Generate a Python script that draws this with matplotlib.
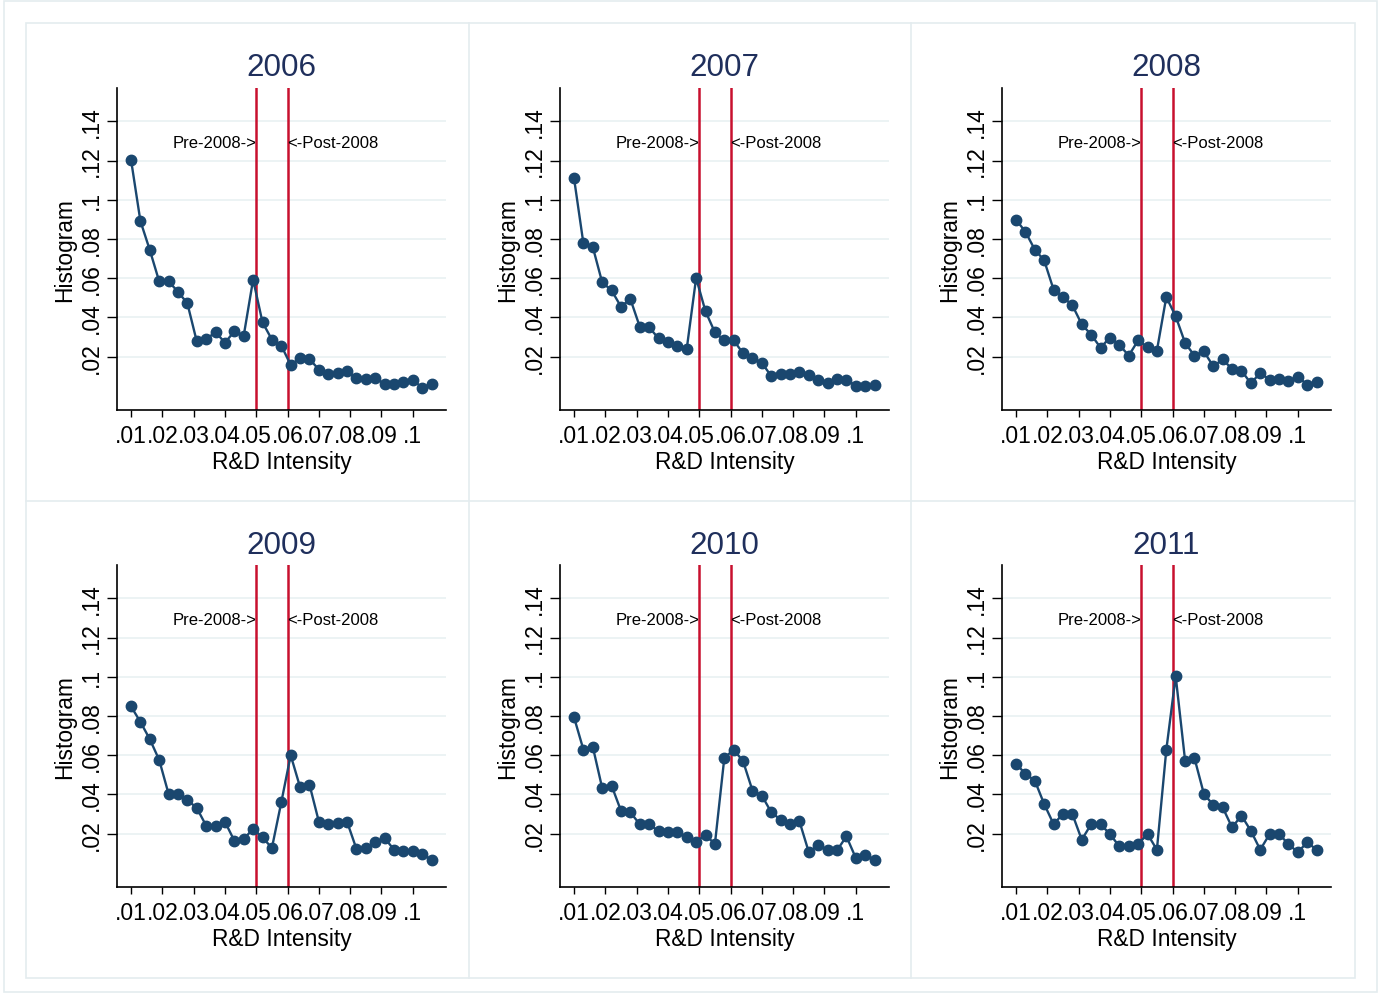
import matplotlib
matplotlib.use("Agg")
import matplotlib.pyplot as plt
from matplotlib.patches import Rectangle
from matplotlib.lines import Line2D

plt.rcParams['font.family'] = ['Liberation Sans', 'DejaVu Sans']

# bin midpoints of R&D intensity
bins = [0.010, 0.013, 0.016, 0.019, 0.022, 0.025, 0.028, 0.031, 0.034, 0.037, 0.040,
        0.043, 0.046, 0.049, 0.052, 0.055, 0.058, 0.061, 0.064, 0.067, 0.070, 0.073,
        0.076, 0.079, 0.082, 0.085, 0.088, 0.091, 0.094, 0.097, 0.100, 0.103, 0.106]

years = ["2006", "2007", "2008", "2009", "2010", "2011"]

h2006 = [0.1205, 0.0892, 0.0744, 0.0584, 0.0584, 0.0531, 0.0472, 0.0278, 0.0288, 0.0326, 0.0271,
         0.0329, 0.0307, 0.0593, 0.0375, 0.0287, 0.0256, 0.0158, 0.0192, 0.0188, 0.0134, 0.0112,
         0.0115, 0.0125, 0.0090, 0.0086, 0.0093, 0.0059, 0.0059, 0.0069, 0.0081, 0.0042, 0.0062]
h2007 = [0.1111, 0.0778, 0.0759, 0.0579, 0.0538, 0.0455, 0.0494, 0.0353, 0.0350, 0.0293, 0.0276,
         0.0256, 0.0239, 0.0601, 0.0431, 0.0324, 0.0283, 0.0283, 0.0217, 0.0193, 0.0168, 0.0101,
         0.0110, 0.0113, 0.0120, 0.0108, 0.0079, 0.0064, 0.0086, 0.0083, 0.0052, 0.0052, 0.0056]
h2008 = [0.0899, 0.0837, 0.0746, 0.0691, 0.0542, 0.0504, 0.0462, 0.0365, 0.0312, 0.0246, 0.0297,
         0.0261, 0.0205, 0.0283, 0.0248, 0.0231, 0.0504, 0.0406, 0.0270, 0.0205, 0.0227, 0.0151,
         0.0186, 0.0137, 0.0129, 0.0064, 0.0117, 0.0083, 0.0086, 0.0078, 0.0098, 0.0057, 0.0073]
h2009 = [0.0849, 0.0770, 0.0682, 0.0576, 0.0403, 0.0403, 0.0372, 0.0331, 0.0241, 0.0241, 0.0261,
         0.0164, 0.0173, 0.0224, 0.0181, 0.0127, 0.0360, 0.0600, 0.0437, 0.0450, 0.0261, 0.0249,
         0.0254, 0.0261, 0.0122, 0.0127, 0.0156, 0.0178, 0.0118, 0.0113, 0.0113, 0.0096, 0.0067]
h2010 = [0.0794, 0.0629, 0.0643, 0.0433, 0.0445, 0.0317, 0.0309, 0.0248, 0.0248, 0.0212, 0.0207,
         0.0207, 0.0181, 0.0159, 0.0193, 0.0147, 0.0585, 0.0629, 0.0569, 0.0420, 0.0394, 0.0309,
         0.0271, 0.0248, 0.0263, 0.0105, 0.0142, 0.0115, 0.0115, 0.0186, 0.0076, 0.0091, 0.0066]
h2011 = [0.0557, 0.0505, 0.0471, 0.0351, 0.0249, 0.0300, 0.0300, 0.0169, 0.0248, 0.0248, 0.0198,
         0.0135, 0.0135, 0.0147, 0.0198, 0.0118, 0.0627, 0.1003, 0.0573, 0.0585, 0.0403, 0.0346,
         0.0334, 0.0232, 0.0292, 0.0215, 0.0118, 0.0198, 0.0198, 0.0147, 0.0105, 0.0156, 0.0118]
series = [h2006, h2007, h2008, h2009, h2010, h2011]

xticks = [0.01, 0.02, 0.03, 0.04, 0.05, 0.06, 0.07, 0.08, 0.09, 0.1]
xticklabels = [".01", ".02", ".03", ".04", ".05", ".06", ".07", ".08", ".09", ".1"]
yticks = [0.02, 0.04, 0.06, 0.08, 0.10, 0.12, 0.14]
yticklabels = [".02", ".04", ".06", ".08", ".1", ".12", ".14"]
cutoffs = [0.05, 0.06]

W, H = 1384, 995
navy = "#1a476f"
red = "#c8102e"
grid_c = "#eaf2f3"
frame_c = "#e4ecef"

fig = plt.figure(figsize=(W / 100, H / 100), dpi=100)


def rect(l, t, w, h):
    return [l / W, 1 - (t + h) / H, w / W, h / H]


# outer frame and panel boxes
fig.add_artist(Rectangle((4 / W, 1 - 993 / H), 1373 / W, 991 / H, transform=fig.transFigure,
                         fill=False, ec=frame_c, lw=1.2))
fig.add_artist(Rectangle((26 / W, 1 - 979 / H), 1329 / W, 955 / H, transform=fig.transFigure,
                         fill=False, ec=frame_c, lw=1.2))
for xv in [469, 911]:
    fig.add_artist(Line2D([xv / W, xv / W], [1 - 979 / H, 1 - 24 / H], transform=fig.transFigure,
                          color=frame_c, lw=1.2))
fig.add_artist(Line2D([26 / W, 1355 / W], [1 - 502 / H, 1 - 502 / H], transform=fig.transFigure,
                      color=frame_c, lw=1.2))

panel_left = [26, 469, 911]
panel_top = [24, 501]

for i, (yr, vals) in enumerate(zip(years, series)):
    r, c = divmod(i, 3)
    ax = fig.add_axes(rect(panel_left[c] + 91, panel_top[r] + 65, 329, 322))
    ax.set_xlim(0.00553, 0.1106)
    ax.set_ylim(-0.0072, 0.157)
    for yv in yticks:
        ax.axhline(yv, color=grid_c, lw=1.3, zorder=0)
    for cv in cutoffs:
        ax.axvline(cv, color=red, lw=1.8, zorder=1)
    ax.plot(bins, vals, color=navy, lw=1.7, marker="o", ms=7.5, zorder=3)
    ax.text(cutoffs[0], 0.129, "Pre-2008->", ha="right", va="center", fontsize=12)
    ax.text(cutoffs[1], 0.129, "<-Post-2008", ha="left", va="center", fontsize=12)

    ax.set_xticks(xticks)
    ax.set_xticklabels(xticklabels)
    ax.set_yticks(yticks)
    ax.set_yticklabels(yticklabels, rotation=90, va="center")
    ax.tick_params(axis="x", direction="out", length=5, width=1, labelsize=16.5, pad=5)
    ax.tick_params(axis="y", direction="out", length=7, width=1, labelsize=16.5, pad=3)
    for s in ["top", "right"]:
        ax.spines[s].set_visible(False)
    for s in ["left", "bottom"]:
        ax.spines[s].set_linewidth(1.2)
    ax.set_xlabel("R&D Intensity", fontsize=16.4, labelpad=2)
    ax.set_ylabel("Histogram", fontsize=16.4, labelpad=3)
    ax.set_title(yr, fontsize=22.6, color="#1f2f5c", pad=9)

fig.savefig("out.png", dpi=100)
